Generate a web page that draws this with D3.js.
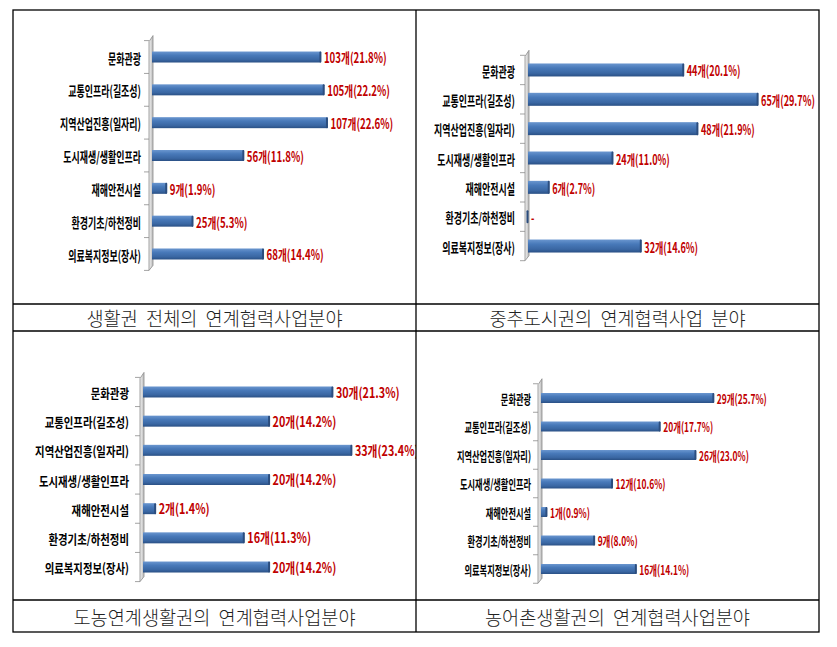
<!DOCTYPE html>
<html>
<head>
<meta charset="utf-8">
<script src="https://d3js.org/d3.v7.min.js"></script>
<style>
    body { margin: 0; background: #fff; }
    svg { display: block; }
</style>
</head>
<body>
<script>
    // categories shared by all four charts
    var categories = ["문화관광", "교통인프라(길조성)", "지역산업진흥(일자리)", "도시재생/생활인프라",
                      "재해안전시설", "환경기초/하천정비", "의료복지정보(장사)"];

    // counts and shares per region type
    var totalCounts = [103, 105, 107, 56, 9, 25, 68];
    var totalShares = [21.8, 22.2, 22.6, 11.8, 1.9, 5.3, 14.4];

    var centralCounts = [44, 65, 48, 24, 6, 0, 32];
    var centralShares = [20.1, 29.7, 21.9, 11.0, 2.7, 0, 14.6];

    var urbanRuralCounts = [30, 20, 33, 20, 2, 16, 20];
    var urbanRuralShares = [21.3, 14.2, 23.4, 14.2, 1.4, 11.3, 14.2];

    var ruralCounts = [29, 20, 26, 12, 1, 9, 16];
    var ruralShares = [25.7, 17.7, 23.0, 10.6, 0.9, 8.0, 14.1];

    var captions = ["생활권  전체의  연계협력사업분야", "중추도시권의  연계협력사업  분야",
                    "도농연계생활권의  연계협력사업분야", "농어촌생활권의  연계협력사업분야"];

    var W = 837, H = 647;
    var font = "'Noto Sans CJK KR', 'Noto Sans', sans-serif";

    var svg = d3.select("body").append("svg")
        .attr("width", W)
        .attr("height", H);

    var defs = svg.append("defs");

    var barGrad = defs.append("linearGradient")
        .attr("id", "barGrad")
        .attr("x1", 0).attr("y1", 0).attr("x2", 0).attr("y2", 1);
    barGrad.append("stop").attr("offset", "0%").attr("stop-color", "#6a96cf");
    barGrad.append("stop").attr("offset", "35%").attr("stop-color", "#4879b9");
    barGrad.append("stop").attr("offset", "75%").attr("stop-color", "#3a67a3");
    barGrad.append("stop").attr("offset", "100%").attr("stop-color", "#2a5085");

    var wallGrad = defs.append("linearGradient")
        .attr("id", "wallGrad")
        .attr("x1", 0).attr("y1", 0).attr("x2", 1).attr("y2", 0);
    wallGrad.append("stop").attr("offset", "0%").attr("stop-color", "#f4f4f4");
    wallGrad.append("stop").attr("offset", "100%").attr("stop-color", "#b8b8b8");

    // layout of each cell
    var panels = [
        { counts: totalCounts, shares: totalShares, cell: [13, 10, 416, 304],
          x0: 152, k: 1.64, band: [40.6, 270.4], barH: 11, labEnd: 141,
          labSize: 14, labSx: 0.64, valSize: 14, valSx: 0.69 },
        { counts: centralCounts, shares: centralShares, cell: [416, 10, 819, 304],
          x0: 528, k: 3.54, band: [55.3, 260.7], barH: 13, labEnd: 515,
          labSize: 14, labSx: 0.64, valSize: 14, valSx: 0.65 },
        { counts: urbanRuralCounts, shares: urbanRuralShares, cell: [13, 331, 416, 600],
          x0: 143, k: 6.33, band: [377.4, 581.6], barH: 11, labEnd: 129,
          labSize: 13, labSx: 0.8, valSize: 14, valSx: 0.77 },
        { counts: ruralCounts, shares: ruralShares, cell: [416, 331, 819, 600],
          x0: 541, k: 5.96, band: [383.75, 583.25], barH: 10, labEnd: 531,
          labSize: 13, labSx: 0.63, valSize: 13, valSx: 0.65 }
    ];

    function label(g, x, y, txt, size, sx, anchor, color, weight) {
        g.append("text")
            .attr("transform", "translate(" + x + "," + y + ") scale(" + sx + ",1)")
            .attr("text-anchor", anchor)
            .attr("dominant-baseline", "central")
            .attr("font-family", font)
            .attr("font-size", size)
            .attr("font-weight", weight)
            .attr("fill", color)
            .text(txt);
    }

    panels.forEach(function(p, i) {
        var c = p.cell;
        defs.append("clipPath").attr("id", "clip" + i)
            .append("rect")
            .attr("x", c[0]).attr("y", c[1])
            .attr("width", c[2] - c[0]).attr("height", c[3] - c[1]);

        var g = svg.append("g").attr("clip-path", "url(#clip" + i + ")");

        var xMax = d3.max(p.counts) * 1.2;
        var x = d3.scaleLinear().domain([0, xMax]).range([p.x0, p.x0 + xMax * p.k]);
        var y = d3.scaleBand().domain(categories).range(p.band);

        var ax = p.x0 - 2;
        var r0 = p.band[0], r1 = p.band[1];

        // 3D wall of the category axis
        g.append("polygon")
            .attr("points", [[ax - 1, r0 + 1], [ax + 3, r0 - 5], [ax + 3, r1 - 5], [ax - 1, r1]].join(" "))
            .attr("fill", "url(#wallGrad)")
            .attr("stroke", "#8c8c8c")
            .attr("stroke-width", 0.8);

        // ticks on the category boundaries
        var bounds = categories.map(function(d) { return y(d); }).concat([r1]);
        g.selectAll(".tick").data(bounds).enter().append("line")
            .attr("x1", ax - 6).attr("x2", ax - 1)
            .attr("y1", function(d) { return d; })
            .attr("y2", function(d) { return d; })
            .attr("stroke", "#8c8c8c")
            .attr("stroke-width", 0.8);

        var rows = categories.map(function(d, j) {
            return { cat: d, n: p.counts[j], s: p.shares[j] };
        });

        var cy = function(d) { return y(d.cat) + y.bandwidth() / 2; };

        g.selectAll(".bar").data(rows).enter().append("rect")
            .attr("x", x(0))
            .attr("y", function(d) { return cy(d) - p.barH / 2; })
            .attr("width", function(d) { return x(d.n) - x(0); })
            .attr("height", p.barH)
            .attr("fill", "url(#barGrad)");

        // darker end cap
        g.selectAll(".cap").data(rows).enter().append("rect")
            .attr("x", function(d) { return x(d.n) - 1.5; })
            .attr("y", function(d) { return cy(d) - p.barH / 2; })
            .attr("width", 2)
            .attr("height", p.barH)
            .attr("rx", 1)
            .attr("fill", "#2b4d7e");

        rows.forEach(function(d) {
            label(g, p.labEnd, cy(d), d.cat, p.labSize, p.labSx, "end", "#000", "bold");
            var txt = d.n === 0 ? "-" : d.n + "개(" + d.s.toFixed(1) + "%)";
            label(g, x(d.n) + 3, cy(d), txt, p.valSize, p.valSx, "start", "#c00000", "bold");
        });

        // caption row
        var capY = i < 2 ? (304 + 331) / 2 : (600 + 632) / 2;
        svg.append("text")
            .attr("transform", "translate(" + ((c[0] + c[2]) / 2) + "," + capY + ") scale(0.98,1)")
            .attr("text-anchor", "middle")
            .attr("dominant-baseline", "central")
            .attr("font-family", font)
            .attr("font-size", 19)
            .attr("font-weight", 300)
            .attr("fill", "#222")
            .style("white-space", "pre")
            .text(captions[i]);
    });

    // table grid
    var grid = svg.append("g").attr("stroke", "#000").attr("stroke-width", 1.3).attr("fill", "none");
    grid.append("rect").attr("x", 13).attr("y", 10).attr("width", 806).attr("height", 622);
    grid.append("line").attr("x1", 416).attr("x2", 416).attr("y1", 10).attr("y2", 632);
    [304, 331, 600].forEach(function(yy) {
        grid.append("line").attr("x1", 13).attr("x2", 819).attr("y1", yy).attr("y2", yy);
    });
</script>
</body>
</html>
